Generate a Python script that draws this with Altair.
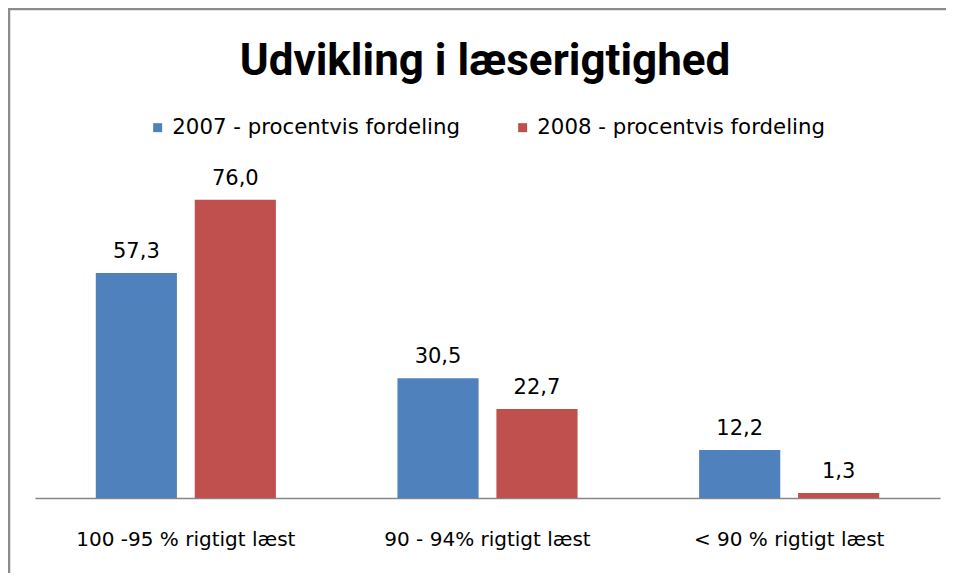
import altair as alt
import pandas as pd

TITLE = ["Udvikling i læserigtighed"]
categories = ["100 -95 % rigtigt læst", "90 -  94% rigtigt læst", "< 90 % rigtigt læst"]
series = ["2007 - procentvis fordeling", "2008 - procentvis fordeling"]
values_2007 = [57.3, 30.5, 12.2]
values_2008 = [76.0, 22.7, 1.3]
colors = ["#4F81BD", "#C0504D"]

rows = []
for c, v in zip(categories, values_2007):
    rows.append({"kategori": c, "serie": series[0], "value": v})
for c, v in zip(categories, values_2008):
    rows.append({"kategori": c, "serie": series[1], "value": v})
df = pd.DataFrame(rows)

FONT = "DejaVu Sans"
TFONT = "Roboto"

x = alt.X("kategori:N", sort=categories, title=None,
          scale=alt.Scale(paddingInner=0.403, paddingOuter=0.2015),
          axis=alt.Axis(labelAngle=0, labelFontSize=20, labelFont=FONT, labelColor="#000000",
                        ticks=False, domainColor="#868686", domainWidth=1.5,
                        labelPadding=31, labelLimit=0))
xo = alt.XOffset("serie:N", sort=series, scale=alt.Scale(paddingInner=0.18, paddingOuter=0))
y = alt.Y("value:Q", scale=alt.Scale(domain=[0, 80]), axis=None)

bars = alt.Chart(df).mark_bar().encode(
    x=x, xOffset=xo, y=y,
    color=alt.Color("serie:N", sort=series, scale=alt.Scale(domain=series, range=colors),
                    legend=alt.Legend(title=None, orient="none", legendX=112, legendY=-67,
                                      direction="horizontal", symbolType="square",
                                      symbolSize=81, symbolStrokeWidth=0,
                                      labelFontSize=21.3, labelFont=FONT, labelColor="#000000",
                                      labelLimit=0, columnPadding=52, labelOffset=4)),
)

labels = alt.Chart(df).transform_calculate(
    lab="replace(format(datum.value, '.1f'), '.', ',')"
).mark_text(fontSize=21, font=FONT, color="#000000", baseline="alphabetic", dy=-15).encode(
    x=x, xOffset=xo, y=y, text="lab:N"
)

title = alt.Chart(pd.DataFrame({"t": TITLE})).mark_text(
    font=TFONT, fontSize=44, fontWeight="bold", color="#000000",
    align="center", baseline="alphabetic"
).encode(x=alt.value(450), y=alt.value(-109), text="t:N")

frame = pd.DataFrame({"k": [0]})
top_line = alt.Chart(frame).mark_rule(color="#8c8c8c", strokeWidth=2.5).encode(
    x=alt.value(-27), x2=alt.value(911), y=alt.value(-175)
)
left_line = alt.Chart(frame).mark_rule(color="#8c8c8c", strokeWidth=2.5).encode(
    x=alt.value(-26), y=alt.value(-176), y2=alt.value(400)
)

chart = alt.layer(bars, labels, title, top_line, left_line).properties(
    width=905, height=314,
    padding={"left": 27, "top": 176, "right": 6, "bottom": 75},
    autosize=alt.AutoSizeParams(type="none"),
    background="white",
).configure_view(strokeOpacity=0, strokeWidth=0)

chart.save("out.html", embed_options={"renderer": "svg", "actions": False})
